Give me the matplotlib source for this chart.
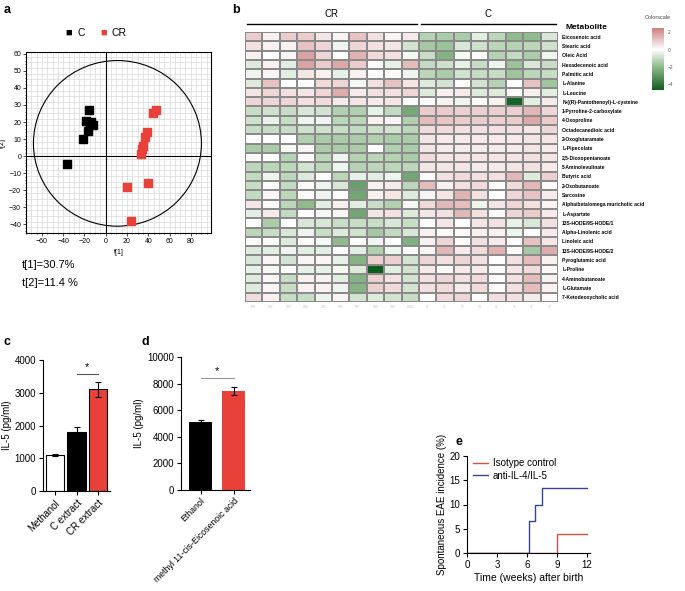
import numpy as np
import matplotlib
matplotlib.use("Agg")
import matplotlib.pyplot as plt
from matplotlib.colors import LinearSegmentedColormap
from matplotlib.patches import Ellipse

plt.rcParams['font.family'] = ['Liberation Sans', 'DejaVu Sans']

W, H = 685, 591

def box(x0, y0, x1, y1):
    return [x0 / W, 1 - y1 / H, (x1 - x0) / W, (y1 - y0) / H]

# ---------------- data ----------------
# panel a (PCA scores)
c_t1 = [-16, -19, -14, -12, -17, -21, -36, -15]
c_t2 = [27, 20.5, 20, 18, 15, 10, -4.5, 19]
cr_t1 = [47, 44, 39, 37, 35, 34, 33, 20, 40, 24]
cr_t2 = [27, 25, 14, 11, 6, 4, 1, -18, -16, -38]

# panel b (heatmap)
metabolites = ["Eicosenoic acid", "Stearic acid", "Oleic Acid", "Hexadecenoic acid",
               "Palmitic acid", "L-Alanine", "L-Leucine", "N-((R)-Pantothenoyl)-L-cysteine",
               "1-Pyrroline-2-carboxylate", "4-Oxoproline", "Octadecanedioic acid",
               "2-Oxoglutaramate", "L-Pipecolate", "2,5-Dioxopentanoate",
               "5-Aminolevulinate", "Butyric acid", "2-Oxobutanoate", "Sarcosine",
               "Alpha/beta/omega muricholic acid", "L-Aspartate", "13S-HODE/9S-HODE/1",
               "Alpha-Linolenic acid", "Linoleic acid", "13S-HODE/9S-HODE/2",
               "Pyroglutamic acid", "L-Proline", "4-Aminobutanoate", "L-Glutamate",
               "7-Ketodeoxycholic acid"]
cr_values = [
    [1.0, 0.3, 1.0, 1.0, 0.5, 0.2, 1.2, 0.6, 0.2, 0.4],
    [0.6, 0.3, 0.3, 1.2, 0.8, -0.3, 0.8, 0.6, 0.5, -0.8],
    [0.3, 0.0, 0.2, 1.8, 0.8, 0.0, 1.5, 0.7, 0.6, -0.2],
    [-0.6, 0.3, -0.5, 1.8, 1.0, 1.7, 1.0, 0.1, -0.4, 1.3],
    [-0.3, 0.2, -0.5, 0.5, 0.3, -0.4, 0.3, 0.0, 0.1, -0.3],
    [-0.6, 1.2, 0.0, 0.05, 0.7, 0.8, -0.2, 0.6, 1.2, 0.5],
    [0.5, 0.8, 0.6, 0.5, 0.8, 1.6, 0.4, 0.6, 0.6, 0.8],
    [0.8, 0.8, 0.8, 0.6, 0.7, 0.4, 0.5, 0.4, 0.5, 0.0],
    [-1.0, -0.9, -1.0, -0.7, -0.8, -1.4, -1.4, -0.4, -1.1, -2.5],
    [-0.9, -0.4, -1.0, -0.3, -0.3, -1.2, -1.2, 0.3, 0.2, -1.4],
    [-1.0, -1.0, -1.0, -0.9, -0.9, -1.0, -1.1, -0.9, -0.8, -1.2],
    [0.0, 0.0, 0.05, -1.4, -1.5, -1.5, -1.5, -1.4, -1.5, -1.5],
    [-1.5, -1.5, -0.2, 0.2, -1.5, -1.5, -1.5, 0.0, -1.4, -1.5],
    [0.1, 0.0, -1.3, 0.1, -1.2, -0.3, -1.3, -1.2, -1.3, -1.5],
    [-1.2, -1.2, -1.2, -0.8, -1.2, -0.3, -1.3, -1.2, -1.2, -1.2],
    [-1.1, -0.3, -1.2, -0.6, 0.0, -1.2, -0.4, -0.5, -0.3, -2.6],
    [-1.0, 0.0, -1.1, 0.1, -0.3, -0.7, -2.8, 0.3, 0.4, -1.2],
    [-1.1, 0.2, -1.2, 0.1, -0.3, 0.0, -2.6, 0.3, 0.5, -0.6],
    [0.5, 0.1, -1.2, -2.0, -0.5, 0.3, -0.5, -1.0, -1.4, -0.2],
    [-0.5, 0.4, -1.1, 0.0, -0.2, 0.2, -2.6, 0.5, 0.6, -0.6],
    [0.05, -1.5, 0.0, -0.7, -0.7, -1.0, -1.0, -1.0, -0.7, -1.0],
    [-1.2, -1.0, -0.7, -0.3, -1.0, -0.6, -0.8, -1.6, -1.1, -0.7],
    [0.05, 0.1, -0.6, 0.1, -0.2, -2.0, 0.05, -0.3, 0.0, -2.3],
    [-0.6, -0.5, -0.3, -0.5, -0.5, 0.0, -0.5, -1.4, -0.3, 0.05],
    [-0.7, 0.2, -0.8, 0.2, 0.2, -0.4, -2.2, 0.9, 0.9, -0.8],
    [-0.4, -0.2, 0.0, -0.4, -0.4, -0.2, -0.6, -4.7, -0.5, -0.8],
    [-0.6, 0.2, -1.0, 0.3, 0.3, -0.5, -2.2, 0.9, 0.6, -0.8],
    [-0.6, 0.2, -1.0, 0.3, 0.3, -0.3, -2.2, 0.9, 0.7, -0.8],
    [0.7, 0.3, -1.0, -1.0, -0.3, 0.2, -0.8, -0.6, -0.8, -1.0],
]
c_values = [
    [-1.3, -1.5, -1.5, -0.5, -1.2, -2.0, -2.0, -0.7],
    [-1.6, -1.8, -0.7, -0.9, -1.2, -1.3, -1.2, -0.9],
    [-1.0, -2.2, -0.2, 0.05, -1.3, -1.1, -1.5, -0.3],
    [-1.1, -0.9, -0.4, -1.0, -0.3, -1.8, -0.7, -1.0],
    [-1.2, -1.5, -0.8, -1.0, -1.0, -1.7, -1.2, -1.0],
    [-0.6, -0.8, 0.1, -0.8, -1.3, 0.0, 1.2, -1.7],
    [-0.6, 0.3, 0.4, -0.6, -0.6, 0.1, 0.3, -0.5],
    [0.05, 0.3, -0.3, 0.1, 0.3, -4.5, -0.5, 0.4],
    [1.0, 1.0, 0.9, 0.9, 0.9, 0.9, 1.4, 0.8],
    [1.3, 1.1, 1.0, 1.0, 0.9, 1.0, 1.7, 1.0],
    [0.7, 0.7, 0.6, 0.6, 0.6, 0.6, 0.5, 0.8],
    [0.5, 0.4, 0.4, 0.4, 0.4, 0.4, 0.5, 0.5],
    [0.5, 0.4, 0.4, 0.4, 0.4, 0.4, 0.5, 0.4],
    [0.7, 0.5, 0.5, 0.5, 0.5, 0.5, 0.6, 0.5],
    [0.5, 0.5, 0.5, 0.4, 0.4, 0.5, 0.6, 0.4],
    [0.05, 0.6, 0.7, 0.6, 0.6, 1.4, -0.6, 0.9],
    [1.3, 0.3, 0.6, 0.7, 0.05, 0.7, 1.4, 0.1],
    [0.2, 0.5, 1.5, 0.6, 0.05, 0.8, 1.2, 0.4],
    [0.7, 1.4, 1.3, -0.3, 0.5, 0.8, 0.6, 0.2],
    [0.5, 0.6, 1.4, 0.6, 0.1, 0.8, 1.0, 0.4],
    [0.05, 0.5, 0.05, 0.5, 0.6, -0.4, -0.7, 0.6],
    [0.3, 0.1, 0.1, 0.3, 0.3, -0.3, 0.05, 0.4],
    [0.3, 0.8, 0.1, 0.6, 0.4, 0.05, 1.2, 0.5],
    [0.2, 1.4, 0.4, 0.7, 1.5, 0.1, -1.6, 1.6],
    [0.8, 0.6, 0.8, 0.6, 0.05, 0.6, 1.3, 0.3],
    [0.4, 0.1, 0.4, 0.4, 0.1, 0.5, 0.7, 0.1],
    [0.6, 0.8, 0.6, 0.7, 0.1, 0.6, 1.3, 0.3],
    [0.6, 0.7, 0.4, 0.7, 0.1, 0.6, 1.3, 0.3],
    [0.05, 0.7, 0.8, 0.05, 0.6, 0.6, 0.4, 0.1],
]
sample_labels = ["CR%d" % (i + 1) for i in range(10)] + ["C%d" % (i + 1) for i in range(8)]

# panel c
c_groups = ["Methanol", "C extract", "CR extract"]
c_means = [1100, 1800, 3100]
c_errs = [40, 140, 220]

# panel d
d_groups = ["Ethanol", "methyl 11-cis-Eicosenoic acid"]
d_means = [5150, 7450]
d_errs = [150, 330]

# panel e
iso_time = [0, 9, 12]
iso_incidence = [0, 3.9, 3.9]
anti_time = [0, 6.2, 6.8, 7.5, 12]
anti_incidence = [0, 6.5, 10, 13.5, 13.5]

RED = "#e8413a"
fig = plt.figure(figsize=(W / 100, H / 100), dpi=100)

# ---------------- panel a ----------------
ax = fig.add_axes(box(26, 52, 211, 233))
ax.set_xlim(-75, 99)
ax.set_ylim(-45, 61)
for gx in np.arange(-75, 100, 5):
    ax.axvline(gx, color="#d9d9d9", lw=0.5, zorder=0)
for gy in np.arange(-45, 62, 10 / 3):
    ax.axhline(gy, color="#d9d9d9", lw=0.5, zorder=0)
ax.axhline(0, color="black", lw=0.8, zorder=1)
ax.axvline(0, color="black", lw=0.8, zorder=1)
ax.add_patch(Ellipse((11, 7.5), 158, 97, fill=False, ec="black", lw=0.8, zorder=2))
ax.scatter(c_t1, c_t2, marker="s", s=28, color="black", zorder=3)
ax.scatter(cr_t1, cr_t2, marker="s", s=28, color=RED, zorder=3)
ax.set_xticks([-60, -40, -20, 0, 20, 40, 60, 80])
ax.set_yticks([-40, -30, -20, -10, 0, 10, 20, 30, 40, 50, 60])
ax.xaxis.set_minor_locator(matplotlib.ticker.MultipleLocator(5))
ax.yaxis.set_minor_locator(matplotlib.ticker.MultipleLocator(2))
ax.tick_params(labelsize=5, length=2, width=0.5, pad=1.5)
ax.tick_params(which="minor", length=1, width=0.4)
for s in ax.spines.values():
    s.set_linewidth(0.8)
ax.set_xlabel("t[1]", fontsize=5, labelpad=3)
ax.set_ylabel("t[2]", fontsize=5, labelpad=2)
fig.text(65 / W, 1 - 33 / H, "■", color="black", fontsize=8, va="center")
fig.text(78 / W, 1 - 33 / H, "C", color="black", fontsize=7.5, va="center")
fig.text(100 / W, 1 - 33 / H, "■", color=RED, fontsize=8, va="center")
fig.text(112 / W, 1 - 33 / H, "CR", color="black", fontsize=7.5, va="center")
fig.text(22 / W, 1 - 265 / H, "t[1]=30.7%", fontsize=8, va="center")
fig.text(22 / W, 1 - 283 / H, "t[2]=11.4 %", fontsize=8, va="center")

# ---------------- panel b ----------------
data = np.hstack([np.array(cr_values), np.array(c_values)])
cmap = LinearSegmentedColormap.from_list(
    "cs", [(0.0, "#0f5c1f"), (0.375, "#8fbb8c"), (0.653, "#ffffff"), (1.0, "#cc7f7f")])
hx = fig.add_axes(box(245, 32, 558, 302))
mesh = hx.pcolormesh(data, cmap=cmap, vmin=-4.7, vmax=2.5, edgecolors="#8a8a8a", linewidth=0.3)
hx.set_xlim(0, data.shape[1])
hx.set_ylim(data.shape[0], 0)
hx.set_xticks(np.arange(data.shape[1]) + 0.5)
hx.set_xticklabels(sample_labels, fontsize=2, color="#bbbbbb")
hx.tick_params(axis="x", length=0, pad=2)
hx.yaxis.tick_right()
hx.set_yticks(np.arange(len(metabolites)) + 0.5)
hx.set_yticklabels(metabolites, fontsize=3.6, fontweight="bold")
hx.tick_params(axis="y", length=0, pad=3)
for s in hx.spines.values():
    s.set_visible(False)
ncr = len(cr_values[0])
hx.plot([0.1, ncr - 0.1], [-0.9, -0.9], color="black", lw=1.0, clip_on=False)
hx.plot([ncr + 0.1, data.shape[1] - 0.1], [-0.9, -0.9], color="black", lw=1.0, clip_on=False)
hx.text(ncr / 2, -1.4, "CR", ha="center", va="bottom", fontsize=7)
hx.text(ncr + (data.shape[1] - ncr) / 2, -1.4, "C", ha="center", va="bottom", fontsize=7)
hx.text(data.shape[1] + 0.45, -0.15, "Metabolite", ha="left", va="bottom", fontsize=6, fontweight="bold")

cax = fig.add_axes(box(652, 28, 664, 90))
cb = fig.colorbar(mesh, cax=cax, ticks=[2, 0, -2, -4])
cb.outline.set_visible(False)
cb.ax.tick_params(labelsize=3.5, length=0, pad=3, labelcolor="#555555")
fig.text(658 / W, 1 - 19 / H, "Colorscale", fontsize=4, ha="center", color="#444444")

# ---------------- panel c ----------------
cx = fig.add_axes(box(43, 360, 110, 491))
xc = np.arange(len(c_groups))
cx.bar(xc, c_means, width=0.85, color=["white", "black", RED], edgecolor="black", linewidth=0.8,
       yerr=c_errs, error_kw=dict(ecolor="black", elinewidth=0.8, capsize=2.5, capthick=0.8))
cx.set_xlim(-0.55, 2.55)
cx.set_ylim(0, 4000)
cx.set_yticks([0, 1000, 2000, 3000, 4000])
cx.set_xticks(xc)
cx.set_xticklabels(c_groups, rotation=45, ha="right", rotation_mode="anchor", fontsize=7)
cx.tick_params(labelsize=7, length=3, width=0.8, pad=2)
cx.tick_params(axis="x", pad=2)
cx.set_ylabel("IL-5 (pg/ml)", fontsize=7, labelpad=2)
cx.spines["top"].set_visible(False)
cx.spines["right"].set_visible(False)
cx.plot([1.0, 2.0], [3580, 3580], color="#555555", lw=0.8, clip_on=False)
cx.text(1.5, 3620, "*", ha="center", va="bottom", fontsize=8)

# ---------------- panel d ----------------
dx = fig.add_axes(box(181, 357, 250, 490))
xd = np.arange(len(d_groups))
dx.bar(xd, d_means, width=0.7, color=["black", RED], edgecolor="black", linewidth=0.0,
       yerr=d_errs, error_kw=dict(ecolor="black", elinewidth=0.8, capsize=2.5, capthick=0.8))
dx.set_xlim(-0.6, 1.5)
dx.set_ylim(0, 10000)
dx.set_yticks([0, 2000, 4000, 6000, 8000, 10000])
dx.set_xticks(xd)
dx.set_xticklabels(d_groups, rotation=45, ha="right", rotation_mode="anchor", fontsize=6.3)
dx.tick_params(axis="y", labelsize=7, length=3, width=0.8, pad=2)
dx.tick_params(axis="x", length=3, width=0.8, pad=1.5)
dx.set_ylabel("IL-5 (pg/ml)", fontsize=7, labelpad=2)
dx.spines["top"].set_visible(False)
dx.spines["right"].set_visible(False)
dx.plot([0.0, 1.0], [8400, 8400], color="#999999", lw=0.8, clip_on=False)
dx.text(0.5, 8550, "*", ha="center", va="bottom", fontsize=8)

# ---------------- panel e ----------------
ex = fig.add_axes(box(467, 456, 590, 553))
ex.step(iso_time, iso_incidence, where="post", color="#d9503f", lw=1.0, label="Isotype control")
ex.step(anti_time, anti_incidence, where="post", color="#34449a", lw=1.0, label="anti-IL-4/IL-5")
ex.set_xlim(0, 12.3)
ex.set_ylim(0, 20)
ex.set_xticks([0, 3, 6, 9, 12])
ex.set_yticks([0, 5, 10, 15, 20])
ex.tick_params(labelsize=7, length=3, width=0.8, pad=2)
ex.spines["top"].set_visible(False)
ex.spines["right"].set_visible(False)
ex.set_xlabel("Time (weeks) after birth", fontsize=7.5, labelpad=2)
ex.set_ylabel("Spontaneous EAE incidence (%)", fontsize=7, labelpad=2)
ex.legend(loc="upper left", bbox_to_anchor=(0.02, 1.02), frameon=False, fontsize=7,
          handlelength=1.5, handletextpad=0.5, labelspacing=0.3, borderaxespad=0)

# panel letters
for lx, ly, t in [(4, 10, "a"), (232, 10, "b"), (4, 342, "c"), (142, 342, "d"), (455, 442, "e")]:
    fig.text(lx / W, 1 - ly / H, t, fontsize=9, fontweight="bold", va="center")

fig.savefig("out.png", dpi=100)
